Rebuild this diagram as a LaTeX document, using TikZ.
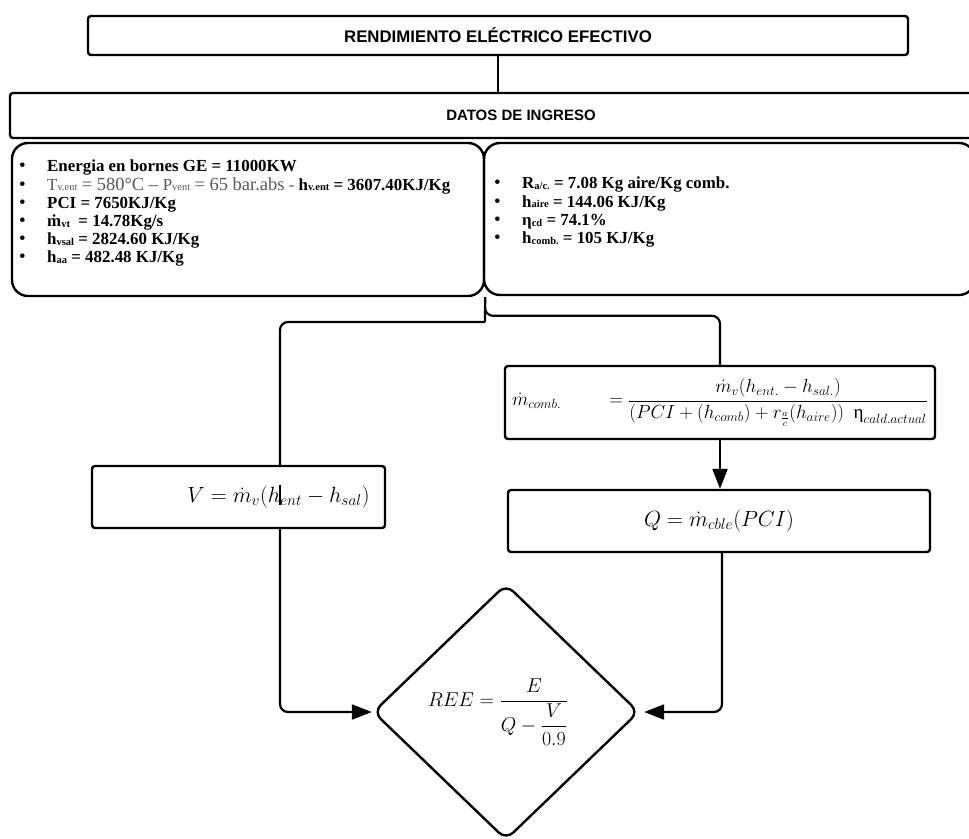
\RequirePackage{fix-cm}
\documentclass[tikz,border=0pt]{standalone}
\usepackage{amsmath}
\usepackage[no-math]{fontspec}
\setmainfont{Liberation Serif}
\newfontfamily\headfont{Liberation Sans}
\newfontfamily\grk{Liberation Serif}
\usetikzlibrary{shapes.geometric,arrows.meta}
\definecolor{txtgray}{RGB}{89,89,89}

% small baseline subscripts used in the data lists
\newcommand\lo[1]{\raisebox{-0.8pt}{\fontsize{10.5}{10.5}\selectfont #1}}
% wider symbols in the temperature / pressure line
\newcommand\widetxt[1]{{\fontsize{18.5}{18.5}\selectfont #1}}
\newcommand\bul{\makebox[28pt][l]{\fontsize{19}{18}\selectfont •}}

\begin{document}
\begin{tikzpicture}[x=1pt,y=-1pt,
  box/.style={draw, line width=2.4pt, rounded corners=3pt, fill=white, inner sep=0pt},
  databox/.style={draw, line width=2.4pt, rounded corners=16pt, inner sep=0pt},
  head/.style={font=\fontsize{#1}{19}\selectfont\headfont\bfseries},
  datatext/.style={align=left, inner sep=0pt, anchor=north west, font=\fontsize{16.9}{18.2}\selectfont},
  eqbig/.style={font=\fontsize{22}{26}\selectfont},
  link/.style={line width=2.2pt, rounded corners=8pt},
  arrow/.style={link, -{Triangle[length=20pt,width=15pt]}}]

\useasboundingbox (0,0) rectangle (969,838);
\clip (0,0) rectangle (969,838);
\fill[white] (0,0) rectangle (969,838);

% headers
\node[box, head=16.8, minimum width=820pt, minimum height=39pt] (title) at (498,35.5)
  {RENDIMIENTO ELÉCTRICO EFECTIVO};
\node[box, head=15, minimum width=1022pt, minimum height=45pt] (datos) at (521,115.5)
  {DATOS DE INGRESO};
\draw[link] (title.south) -- (title.south |- datos.north);

% input data
\node[databox, minimum width=472pt, minimum height=153pt] (dl) at (248,219.5) {};
\node[databox, minimum width=491pt, minimum height=152pt] (dr) at (729.5,219) {};

\node[datatext] (dlt) at (19,160) {%
\bul\textbf{Energia en bornes GE = 11000KW}\\
\bul{\color{txtgray}T\lo{v.ent} \widetxt{= 580°C – }P\lo{vent} \widetxt{= 65 bar.abs} - }\textbf{h\lo{v.ent} = 3607.40KJ/Kg}\\
\bul\textbf{PCI = 7650KJ/Kg}\\
\bul\textbf{ṁ\lo{vt}\ \ = 14.78Kg/s}\\
\bul\textbf{h\lo{vsal} = 2824.60 KJ/Kg}\\
\bul\textbf{h\lo{aa} = 482.48 KJ/Kg}};

\node[datatext] (drt) at (494,177) {%
\bul\textbf{R\lo{a/c.} = 7.08 Kg aire/Kg comb.}\\
\bul\textbf{h\lo{aire} = 144.06 KJ/Kg}\\
\bul\textbf{η\lo{cd} = 74.1\%}\\
\bul\textbf{h\lo{comb.} = 105 KJ/Kg}};

% calculation steps
\node[box, minimum width=430pt, minimum height=73pt, font=\fontsize{19}{22}\selectfont] (mc) at (720,402.5)
  {$\displaystyle \dot m_{comb.}\qquad\ = \frac{\dot m_v(h_{ent.} - h_{sal.})}{(PCI + (h_{comb}) + r_{\frac{a}{c}}(h_{aire}))\ \ \mbox{\grk η}_{cald.actual}}$};
\node[box, eqbig, minimum width=422pt, minimum height=62pt] (Q) at (719,521)
  {$Q = \dot m_{cble}(PCI)$};
\node[box, eqbig, minimum width=293pt, minimum height=62pt] (V) at (238.5,497)
  {\hspace*{80pt}$V = \dot m_v(h_{ent} - h_{sal})$};

\node[draw, diamond, line width=2.4pt, rounded corners=10pt, inner sep=0pt,
  minimum width=266pt, minimum height=256pt, font=\fontsize{20}{24}\selectfont] (D) at (506,712)
  {\hspace*{-16pt}$\displaystyle REE = \frac{E}{Q - \dfrac{V}{0.9}}$};

% connectors
\coordinate (fork) at (485,322);
\coordinate (forkr) at (485,306);
\draw[link] (dl.south east) -- (fork);
\draw[link] (fork) -| ([xshift=41.5pt]V.north);
\draw[link] (forkr) |- ([yshift=49pt]mc.north) -- (mc.north);
\draw[arrow] (mc.south) -- (mc.south |- Q.north);
\draw[line width=1.2pt] ([xshift=41.5pt,yshift=-20pt]V.north) -- ++(0,20);
\draw[arrow] ([xshift=41.5pt]V.south) |- (D.west);
\draw[arrow, shorten >=4pt] ([xshift=3pt]Q.south) |- (D.east);
\end{tikzpicture}
\end{document}
